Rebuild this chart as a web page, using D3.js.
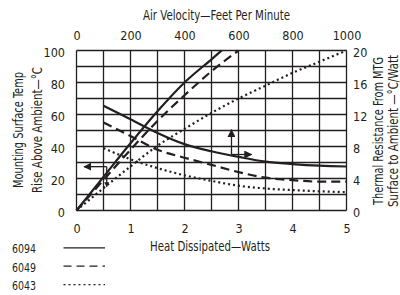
<!DOCTYPE html>
<html>
<head>
<meta charset="utf-8">
<script src="https://cdn.jsdelivr.net/npm/d3@7"></script>
<style>
  body { margin: 0; background: #fff; }
  svg text { font-family: "DejaVu Sans Condensed", "DejaVu Sans", sans-serif; font-stretch: condensed; fill: #231f20; }
</style>
</head>
<body>
<svg id="chart" width="400" height="295"></svg>
<script>
// temperature rise vs heat dissipated (bottom / left axes)
var rise6094W = [0, 0.5, 1, 1.5, 2, 2.5, 2.69];
var rise6094T = [0, 21, 42, 62, 80, 94.5, 100];
var rise6049W = [0, 0.5, 1, 1.5, 2, 2.5, 3];
var rise6049T = [0, 19, 38, 56, 72, 87, 100];
var rise6043W = [0, 0.5, 1, 1.5, 2, 2.5, 3, 3.5, 4, 4.5, 5];
var rise6043T = [0, 14, 27.5, 40.5, 51, 61, 70, 78, 86, 93, 100];

// thermal resistance vs air velocity (top / right axes)
var airFpm = [100, 200, 300, 400, 500, 600, 700, 800, 900, 1000];
var res6094 = [13.1, 11.4, 9.7, 8.3, 7.4, 6.7, 6.1, 5.8, 5.6, 5.5];
var res6049 = [11.0, 9.3, 7.6, 6.6, 5.7, 4.8, 4.1, 3.8, 3.6, 3.6];
var res6043 = [7.8, 6.4, 5.3, 4.4, 3.7, 3.1, 2.75, 2.55, 2.4, 2.3];

var wattTicks = [0, 1, 2, 3, 4, 5];
var tempTicks = [0, 20, 40, 60, 80, 100];
var fpmTicks = [0, 200, 400, 600, 800, 1000];
var resTicks = [0, 4, 8, 12, 16, 20];

var models = ["6094", "6049", "6043"];
var dashes = [null, "9,5", "2,3"];
var legendDashes = [null, "8,5", "2,3"];

// arrow annotations, in data units
var arrowLeft = { w: [0.56, 0.14], t: 27.4, tDown: 14.9 };   // bottom/left scales
var arrowRight = { fpm: 574, fpmTip: 648, r: 7.0, rTip: 10.1 }; // top/right scales

var margin = { top: 50.5, right: 53.5, bottom: 84.5, left: 76.5 };
var width = 400 - margin.left - margin.right;
var height = 295 - margin.top - margin.bottom;
var ink = "#231f20";

var svg = d3.select("#chart");

var x = d3.scaleLinear().domain([0, 5]).range([margin.left, margin.left + width]);
var xTop = d3.scaleLinear().domain([0, 1000]).range([margin.left, margin.left + width]);
var y = d3.scaleLinear().domain([0, 100]).range([margin.top + height, margin.top]);
var yRight = d3.scaleLinear().domain([0, 20]).range([margin.top + height, margin.top]);

var defs = svg.append("defs");
function marker(id, size) {
    defs.append("marker")
        .attr("id", id)
        .attr("viewBox", "0 0 10 10")
        .attr("refX", 9)
        .attr("refY", 5)
        .attr("markerUnits", "userSpaceOnUse")
        .attr("markerWidth", size)
        .attr("markerHeight", size)
        .attr("orient", "auto")
        .append("path")
            .attr("d", "M0,0L10,5L0,10z")
            .attr("fill", ink);
}
marker("head", 8);
marker("headSmall", 5);

// grid
var grid = svg.append("g");
grid.selectAll(".vline")
    .data(d3.range(0, 5.01, 0.5))
    .enter()
    .append("line")
        .attr("x1", function(d) { return x(d); })
        .attr("x2", function(d) { return x(d); })
        .attr("y1", y(0))
        .attr("y2", y(100))
        .attr("stroke", ink)
        .attr("stroke-width", 1.3);
grid.selectAll(".hline")
    .data(d3.range(0, 101, 10))
    .enter()
    .append("line")
        .attr("y1", function(d) { return y(d); })
        .attr("y2", function(d) { return y(d); })
        .attr("x1", x(0))
        .attr("x2", x(5))
        .attr("stroke", ink)
        .attr("stroke-width", 1.3);

// axes (labels only)
function styleAxis(g) {
    g.select(".domain").remove();
    g.attr("font-family", null);
    g.selectAll("text").attr("font-size", 12.5).attr("fill", ink);
}
svg.append("g")
    .attr("transform", "translate(0," + y(0) + ")")
    .call(d3.axisBottom(x).tickValues(wattTicks).tickSize(0).tickPadding(13.5).tickFormat(d3.format("d")))
    .call(styleAxis);
svg.append("g")
    .attr("transform", "translate(0," + y(100) + ")")
    .call(d3.axisTop(xTop).tickValues(fpmTicks).tickSize(0).tickPadding(11).tickFormat(d3.format("d")))
    .call(styleAxis);
svg.append("g")
    .attr("transform", "translate(" + x(0) + ",0)")
    .call(d3.axisLeft(y).tickValues(tempTicks).tickSize(0).tickPadding(11.5).tickFormat(d3.format("d")))
    .call(styleAxis)
    .selectAll("text").attr("dy", "0.45em");
svg.append("g")
    .attr("transform", "translate(" + x(5) + ",0)")
    .call(d3.axisRight(yRight).tickValues(resTicks).tickSize(0).tickPadding(6.5).tickFormat(d3.format("d")))
    .call(styleAxis)
    .selectAll("text").attr("dy", "0.45em");

// curves
var riseLine = d3.line()
    .x(function(d) { return x(d[0]); })
    .y(function(d) { return y(d[1]); })
    .curve(d3.curveMonotoneX);
var resLine = d3.line()
    .x(function(d) { return xTop(d[0]); })
    .y(function(d) { return yRight(d[1]); })
    .curve(d3.curveMonotoneX);

var riseSeries = [d3.zip(rise6094W, rise6094T), d3.zip(rise6049W, rise6049T), d3.zip(rise6043W, rise6043T)];
var resSeries = [d3.zip(airFpm, res6094), d3.zip(airFpm, res6049), d3.zip(airFpm, res6043)];

riseSeries.forEach(function(s, i) {
    svg.append("path")
        .attr("d", riseLine(s))
        .attr("fill", "none")
        .attr("stroke", ink)
        .attr("stroke-width", 2.2)
        .attr("stroke-dasharray", dashes[i]);
});
resSeries.forEach(function(s, i) {
    svg.append("path")
        .attr("d", resLine(s))
        .attr("fill", "none")
        .attr("stroke", ink)
        .attr("stroke-width", 2.2)
        .attr("stroke-dasharray", dashes[i]);
});

// arrows
svg.append("line")
    .attr("x1", x(arrowLeft.w[0])).attr("y1", y(arrowLeft.t))
    .attr("x2", x(arrowLeft.w[1])).attr("y2", y(arrowLeft.t))
    .attr("stroke", ink).attr("stroke-width", 1.3)
    .attr("marker-end", "url(#head)");
svg.append("line")
    .attr("x1", x(arrowLeft.w[0])).attr("y1", y(arrowLeft.t))
    .attr("x2", x(arrowLeft.w[0])).attr("y2", y(arrowLeft.tDown))
    .attr("stroke", ink).attr("stroke-width", 1.3)
    .attr("marker-end", "url(#headSmall)");
svg.append("line")
    .attr("x1", xTop(arrowRight.fpm)).attr("y1", yRight(arrowRight.r))
    .attr("x2", xTop(arrowRight.fpm)).attr("y2", yRight(arrowRight.rTip))
    .attr("stroke", ink).attr("stroke-width", 1.3)
    .attr("marker-end", "url(#head)");
svg.append("line")
    .attr("x1", xTop(arrowRight.fpm)).attr("y1", yRight(arrowRight.r))
    .attr("x2", xTop(arrowRight.fpmTip)).attr("y2", yRight(arrowRight.r))
    .attr("stroke", ink).attr("stroke-width", 1.3)
    .attr("marker-end", "url(#head)");

// titles (squeezed to the condensed widths of the original)
function title(sel, len) {
    return sel.attr("textLength", len).attr("lengthAdjust", "spacingAndGlyphs");
}
svg.append("text")
    .attr("x", 216.5).attr("y", 20)
    .attr("text-anchor", "middle").attr("font-size", 13.5)
    .text("Air Velocity\u2014Feet Per Minute")
    .call(title, 147);
svg.append("text")
    .attr("x", 210).attr("y", 251)
    .attr("text-anchor", "middle").attr("font-size", 13.5)
    .text("Heat Dissipated\u2014Watts")
    .call(title, 120);

var leftTitle = ["Mounting Surface Temp", "Rise Above Ambient\u2014\u00b0C"];
var leftLen = [116, 126];
var rightTitle = ["Thermal Resistance From MTG", "Surface to Ambient \u2014\u00b0C/Watt"];
var rightLen = [148, 152];
[23, 41.5].forEach(function(bx, i) {
    svg.append("text")
        .attr("transform", "translate(" + bx + ",130)rotate(-90)")
        .attr("text-anchor", "middle").attr("font-size", 13.5)
        .text(leftTitle[i])
        .call(title, leftLen[i]);
});
[383, 398].forEach(function(bx, i) {
    svg.append("text")
        .attr("transform", "translate(" + bx + ",131)rotate(-90)")
        .attr("text-anchor", "middle").attr("font-size", 13.5)
        .text(rightTitle[i])
        .call(title, rightLen[i]);
});

// legend
var legend = svg.selectAll(".legend")
    .data(models)
    .enter()
    .append("g")
    .attr("class", "legend")
    .attr("transform", function(d, i) { return "translate(0," + (253.3 + i * 18.4) + ")"; });
legend.append("text")
    .attr("x", 12).attr("y", 0)
    .attr("font-size", 12)
    .text(function(d) { return d; })
    .call(title, 24);
legend.append("line")
    .attr("x1", 63.5).attr("x2", 105)
    .attr("y1", -5.5).attr("y2", -5.5)
    .attr("stroke", ink).attr("stroke-width", 1.2)
    .attr("stroke-dasharray", function(d, i) { return legendDashes[i]; });
</script>
</body>
</html>
